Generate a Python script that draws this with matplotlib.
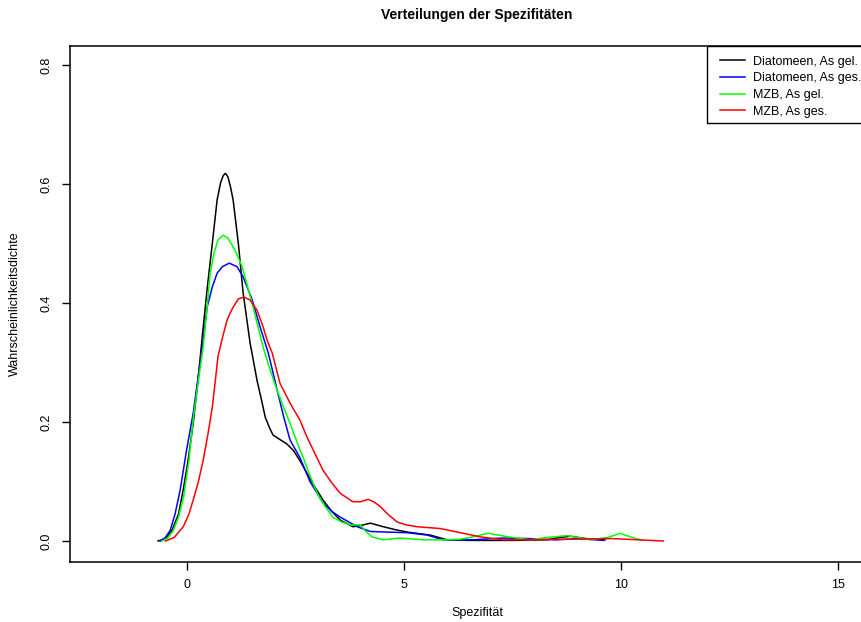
import matplotlib
matplotlib.use("Agg")
import matplotlib.pyplot as plt
from matplotlib.patches import Rectangle

plt.rcParams["font.family"] = ["Liberation Sans", "DejaVu Sans"]

# ── data (x = Spezifität, y = density) ───────────────────────────────────────
dia_gel_x = [-0.67, -0.5, -0.35, -0.2, -0.09, 0.03, 0.14, 0.25, 0.35, 0.47, 0.58, 0.69,
             0.77, 0.83, 0.88, 0.94, 1.0, 1.06, 1.18, 1.29, 1.45, 1.61, 1.72, 1.80,
             1.90, 1.98, 2.15, 2.3, 2.45, 2.6, 2.76, 2.95, 3.13, 3.33, 3.53, 3.82,
             4.0, 4.22, 4.52, 4.8, 5.07, 5.6, 5.99, 6.5, 7.5, 8.3, 8.6, 8.83, 9.2, 9.63]
dia_gel_y = [0.0, 0.004, 0.018, 0.045, 0.086, 0.14, 0.198, 0.27, 0.345, 0.43, 0.50, 0.573,
             0.602, 0.614, 0.618, 0.612, 0.595, 0.573, 0.50, 0.417, 0.333, 0.27, 0.235, 0.208,
             0.19, 0.178, 0.17, 0.163, 0.152, 0.135, 0.114, 0.09, 0.069, 0.05, 0.035, 0.024,
             0.026, 0.030, 0.024, 0.019, 0.015, 0.010, 0.002, 0.001, 0.001, 0.002, 0.006, 0.008, 0.004, 0.002]

dia_ges_x = [-0.62, -0.5, -0.39, -0.28, -0.16, -0.02, 0.14, 0.27, 0.39, 0.46, 0.58, 0.69,
             0.81, 0.97, 1.15, 1.29, 1.5, 1.68, 1.87, 2.07, 2.22, 2.37, 2.6, 2.83,
             3.13, 3.33, 3.53, 3.92, 4.22, 4.6, 5.07, 5.53, 5.9, 6.6, 7.0, 7.3,
             7.9, 8.5, 9.0, 9.6]
dia_ges_y = [0.0, 0.006, 0.018, 0.045, 0.086, 0.15, 0.215, 0.285, 0.35, 0.393, 0.427, 0.45,
             0.461, 0.467, 0.461, 0.444, 0.405, 0.36, 0.316, 0.255, 0.21, 0.17, 0.14, 0.10,
             0.064, 0.05, 0.04, 0.024, 0.016, 0.015, 0.014, 0.010, 0.002, 0.002, 0.004, 0.005,
             0.004, 0.002, 0.004, 0.001]

mzb_gel_x = [-0.58, -0.45, -0.33, -0.2, -0.08, 0.04, 0.14, 0.26, 0.37, 0.45, 0.53, 0.62,
             0.71, 0.83, 0.94, 1.1, 1.27, 1.52, 1.75, 1.9, 2.07, 2.22, 2.37, 2.6,
             2.67, 2.83, 3.0, 3.18, 3.36, 3.56, 3.76, 3.99, 4.12, 4.26, 4.52, 4.91,
             5.44, 6.0, 6.3, 6.59, 6.94, 7.4, 7.9, 8.3, 8.76, 9.29, 9.7, 9.98, 10.25, 10.5]
mzb_gel_y = [0.0, 0.005, 0.016, 0.04, 0.075, 0.135, 0.205, 0.27, 0.326, 0.385, 0.45, 0.484,
             0.506, 0.514, 0.509, 0.489, 0.461, 0.393, 0.326, 0.29, 0.254, 0.225, 0.198, 0.153,
             0.141, 0.11, 0.08, 0.058, 0.04, 0.032, 0.027, 0.027, 0.016, 0.007, 0.002, 0.005,
             0.002, 0.002, 0.003, 0.007, 0.013, 0.007, 0.002, 0.006, 0.009, 0.002, 0.006, 0.013, 0.006, 0.001]

mzb_ges_x = [-0.5, -0.3, -0.09, 0.03, 0.14, 0.26, 0.37, 0.48, 0.58, 0.65, 0.71, 0.8,
             0.92, 0.99, 1.06, 1.18, 1.31, 1.45, 1.61, 1.75, 1.84, 1.96, 2.14, 2.37,
             2.6, 2.76, 2.95, 3.13, 3.33, 3.53, 3.82, 4.0, 4.17, 4.3, 4.45, 4.64,
             4.84, 5.05, 5.3, 5.83, 6.36, 6.75, 7.28, 8.0, 8.8, 9.8, 10.4, 10.97]
mzb_ges_y = [0.0, 0.006, 0.024, 0.043, 0.069, 0.1, 0.136, 0.18, 0.225, 0.27, 0.31, 0.338,
             0.371, 0.383, 0.393, 0.407, 0.41, 0.405, 0.388, 0.36, 0.338, 0.316, 0.265, 0.232,
             0.203, 0.175, 0.146, 0.119, 0.098, 0.08, 0.066, 0.066, 0.07, 0.066, 0.058, 0.044,
             0.032, 0.027, 0.024, 0.021, 0.013, 0.007, 0.002, 0.002, 0.003, 0.004, 0.002, 0.0]

series = [
    ("Diatomeen, As gel.", dia_gel_x, dia_gel_y, "black"),
    ("Diatomeen, As ges.", dia_ges_x, dia_ges_y, "#0000FF"),
    ("MZB, As gel.", mzb_gel_x, mzb_gel_y, "#00FF00"),
    ("MZB, As ges.", mzb_ges_x, mzb_ges_y, "#FF0000"),
]

W, H = 861, 622
AX_L, AX_R, AX_T, AX_B = 70, 884, 46, 562   # plot region in pixels (runs past right edge)
aw, ah = AX_R - AX_L, AX_B - AX_T

fig = plt.figure(figsize=(W / 100, H / 100), dpi=100)
ax = fig.add_axes([AX_L / W, (H - AX_B) / H, aw / W, ah / H])

for label, xs, ys, col in series:
    ax.plot(xs, ys, color=col, lw=1.1, label=label, solid_joinstyle="round")

ax.set_xlim(-2.7, 16.06)
ax.set_ylim(-0.0353, 0.832)
ax.set_xticks([0, 5, 10, 15])
ax.set_yticks([0.0, 0.2, 0.4, 0.6, 0.8])
ax.set_yticklabels(["0.0", "0.2", "0.4", "0.6", "0.8"], rotation=90, va="center")
ax.tick_params(direction="out", length=6, width=1, labelsize=9, pad=6.5)
for sp in ax.spines.values():
    sp.set_linewidth(1.1)

# title and axis labels, placed like R's base graphics
ax.text(0.5, 1 + (AX_T - 15) / ah, "Verteilungen der Spezifitäten", transform=ax.transAxes,
        ha="center", va="center", fontsize=10, fontweight="bold")
ax.set_xlabel("Spezifität", fontsize=9)
ax.xaxis.set_label_coords(0.5, -(613 - AX_B) / ah)
ax.xaxis.label.set_va("center")
ax.set_ylabel("Wahrscheinlichkeitsdichte", fontsize=9)
ax.yaxis.set_label_coords(-(AX_L - 15) / aw, 0.5)
ax.yaxis.label.set_va("center")

# legend box (its right side is cut off in the original)
box = Rectangle(((707 - AX_L) / aw, 1 - (123 - AX_T) / ah), 1.2, (123 - AX_T) / ah,
                transform=ax.transAxes, facecolor="white", edgecolor="black",
                lw=1.0, clip_on=False, zorder=4.5)
ax.add_patch(box)
leg = ax.legend(loc="upper left", bbox_to_anchor=((720 - AX_L) / aw, 1 - (55.5 - AX_T) / ah),
                borderaxespad=0, borderpad=0, frameon=False, fontsize=9,
                handlelength=2.0, handletextpad=0.64, labelspacing=0.38)
leg.set_zorder(5)

fig.savefig("out.png", dpi=100)
